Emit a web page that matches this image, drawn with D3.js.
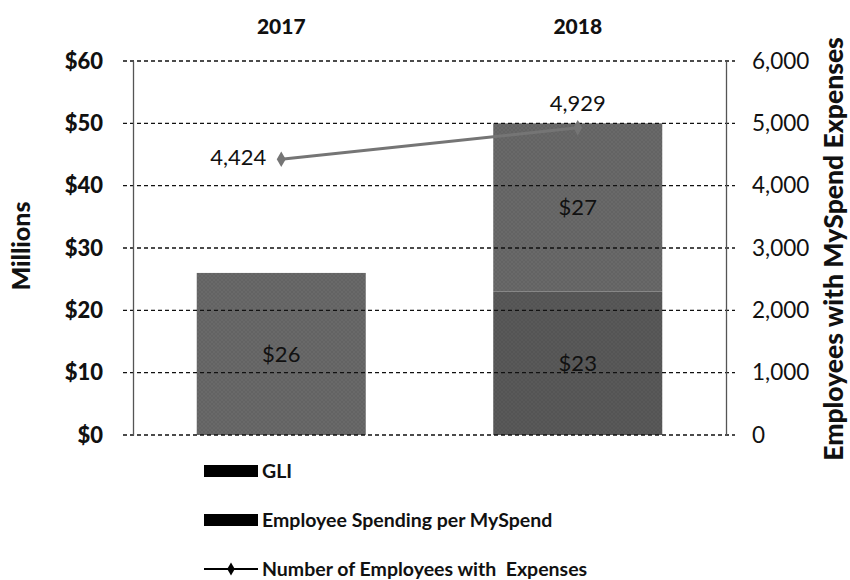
<!DOCTYPE html>
<html>
<head>
<meta charset="utf-8">
<script src="https://cdn.jsdelivr.net/npm/d3@7"></script>
<style>
  body { margin: 0; background: #fff; }
  text { font-family: Lato, "Open Sans", sans-serif; fill: #111; white-space: pre; }
</style>
</head>
<body>
<svg id="chart" width="850" height="580"></svg>
<script>
// Chart data
const years = ["2017", "2018"];
const gli = [0, 23];                 // GLI, $ millions
const spending = [26, 27];           // Employee Spending per MySpend, $ millions
const employees = [4424, 4929];      // Number of employees with expenses
const leftTicks = [0, 10, 20, 30, 40, 50, 60];
const rightTicks = [0, 1000, 2000, 3000, 4000, 5000, 6000];

const seriesNames = ["GLI", "Employee Spending per MySpend", "Number of Employees with  Expenses"];
const seriesColors = ["#595959", "#696969"];
const lineColor = "#757575";

const svg = d3.select("#chart");
const plot = { left: 133, right: 726, top: 61, bottom: 435 };

const x = d3.scaleBand().domain(years).range([plot.left, plot.right]).paddingInner(0.43).paddingOuter(0.215);
const yL = d3.scaleLinear().domain([0, 60]).range([plot.bottom, plot.top]);
const yR = d3.scaleLinear().domain([0, 6000]).range([plot.bottom, plot.top]);

// Fine cross-hatch texture laid over the bar fills
const defs = svg.append("defs");
seriesColors.forEach((c, i) => {
  const p = defs.append("pattern").attr("id", "tex" + i).attr("patternUnits", "userSpaceOnUse")
    .attr("width", 4).attr("height", 4);
  p.append("rect").attr("width", 4).attr("height", 4).attr("fill", c);
  p.append("path").attr("d", "M0,4 L4,0 M0,0 L4,4").attr("stroke", "#000").attr("stroke-opacity", 0.06).attr("stroke-width", 1);
});

// Stacked bars
const rows = years.map((yr, i) => ({ year: yr, gli: gli[i], spending: spending[i] }));
const stack = d3.stack().keys(["gli", "spending"])(rows);
svg.append("g").selectAll("g").data(stack).join("g")
  .attr("fill", (d, i) => `url(#tex${i})`)
  .selectAll("rect").data(d => d.filter(p => p[1] - p[0] > 0)).join("rect")
  .attr("x", d => x(d.data.year))
  .attr("width", x.bandwidth())
  .attr("y", d => yL(d[1]))
  .attr("height", d => yL(d[0]) - yL(d[1]));

// Dashed gridlines, drawn over the bars
svg.append("g").selectAll("line").data(leftTicks).join("line")
  .attr("x1", plot.left - 10).attr("x2", plot.right + 9)
  .attr("y1", d => yL(d)).attr("y2", d => yL(d))
  .attr("stroke", "#111").attr("stroke-width", 1.4)
  .attr("stroke-dasharray", "4,3");

// Left axis
const axL = svg.append("g").attr("transform", `translate(${plot.left},0)`)
  .call(d3.axisLeft(yL).tickValues(leftTicks).tickFormat(d => "$" + d).tickSize(0).tickPadding(30));
axL.select(".domain").attr("stroke", "#555").attr("stroke-width", 1.3);
axL.selectAll("text").attr("font-family", null).attr("font-size", null)
  .style("font-size", "22px").style("font-weight", "900");

// Right axis
const axR = svg.append("g").attr("transform", `translate(${plot.right},0)`)
  .call(d3.axisRight(yR).tickValues(rightTicks).tickFormat(d3.format(",")).tickSize(0).tickPadding(26));
axR.select(".domain").attr("stroke", "#555").attr("stroke-width", 1.3);
axR.selectAll("text").attr("font-family", null).attr("font-size", null).style("font-size", "22.5px");

// Year labels at the top
svg.append("g").selectAll("text").data(years).join("text")
  .attr("x", d => x(d) + x.bandwidth() / 2).attr("y", 34)
  .attr("text-anchor", "middle").style("font-size", "21px").style("font-weight", "900")
  .text(d => d);

// Axis titles
svg.append("text").attr("transform", "translate(30,246) rotate(-90)")
  .attr("text-anchor", "middle").style("font-size", "25px").style("font-weight", "900").text("Millions");
svg.append("text").attr("transform", "translate(843,249) rotate(-90)")
  .attr("text-anchor", "middle").style("font-size", "26.5px").style("font-weight", "900")
  .text("Employees with MySpend Expenses");

// Bar value labels, centred in each segment
const barLabels = [];
stack.forEach(s => s.forEach(p => {
  const v = p[1] - p[0];
  if (v > 0) barLabels.push({ year: p.data.year, v, mid: (p[0] + p[1]) / 2 });
}));
svg.append("g").selectAll("text").data(barLabels).join("text")
  .attr("x", d => x(d.year) + x.bandwidth() / 2)
  .attr("y", d => yL(d.mid))
  .attr("text-anchor", "middle").attr("dy", "0.35em").style("font-size", "22px")
  .text(d => "$" + d.v);

// Employee count line
const pts = years.map((yr, i) => ({ year: yr, v: employees[i] }));
const cx = d => x(d.year) + x.bandwidth() / 2;
svg.append("path").datum(pts)
  .attr("d", d3.line().x(cx).y(d => yR(d.v)))
  .attr("fill", "none").attr("stroke", lineColor).attr("stroke-width", 3);
svg.append("g").selectAll("path").data(pts).join("path")
  .attr("d", d3.symbol(d3.symbolDiamond, 70))
  .attr("transform", d => `translate(${cx(d)},${yR(d.v)})`)
  .attr("fill", lineColor);
svg.append("g").selectAll("text").data(pts).join("text")
  .attr("x", (d, i) => i === 0 ? cx(d) - 15 : cx(d))
  .attr("y", (d, i) => i === 0 ? yR(d.v) - 2 : yR(d.v) - 24)
  .attr("text-anchor", (d, i) => i === 0 ? "end" : "middle")
  .attr("dy", "0.35em").style("font-size", "22px")
  .text(d => d3.format(",")(d.v));

// Legend
const legend = svg.append("g").attr("transform", "translate(204,0)");
const ly = [471, 520, 569];
seriesNames.forEach((name, i) => {
  if (i < 2) {
    legend.append("rect").attr("x", 0).attr("y", ly[i] - 6).attr("width", 54).attr("height", 12).attr("fill", "#000");
  } else {
    legend.append("line").attr("x1", 0).attr("x2", 54).attr("y1", ly[i]).attr("y2", ly[i])
      .attr("stroke", "#000").attr("stroke-width", 2);
    legend.append("path").attr("d", d3.symbol(d3.symbolDiamond, 50))
      .attr("transform", `translate(27,${ly[i]})`).attr("fill", "#000");
  }
  legend.append("text").attr("x", 58).attr("y", ly[i]).attr("dy", "0.36em")
    .style("font-size", "19.5px").style("font-weight", "bold").text(name);
});
</script>
</body>
</html>
